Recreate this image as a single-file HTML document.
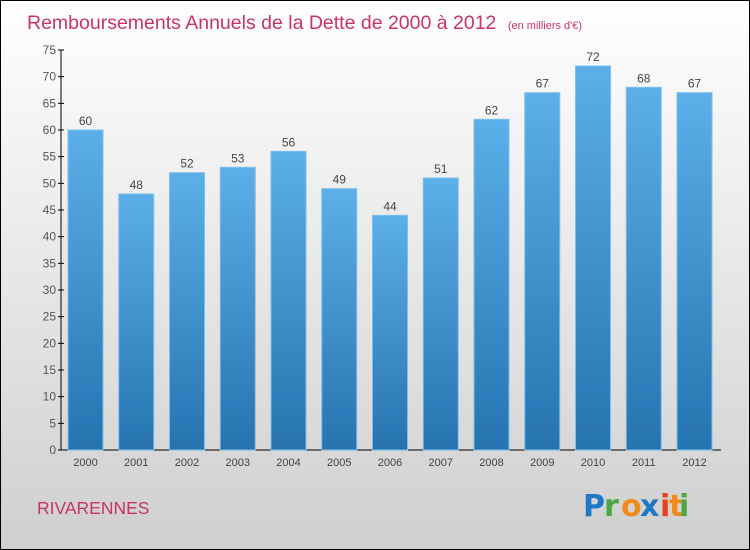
<!DOCTYPE html>
<html><head><meta charset="utf-8"><style>
body{margin:0;width:750px;height:550px;overflow:hidden}
svg{display:block;font-family:"Liberation Sans",sans-serif}
</style></head><body>
<svg id="c" width="750" height="550">
<defs>
<linearGradient id="bg" x1="0" y1="0" x2="0" y2="1"><stop offset="0" stop-color="#ffffff"/><stop offset="1" stop-color="#cfcfcf"/></linearGradient>
<linearGradient id="bar" x1="0" y1="0" x2="0" y2="1"><stop offset="0" stop-color="#5cafe8"/><stop offset="1" stop-color="#2673b0"/></linearGradient>
</defs>
<rect x="0.5" y="0.5" width="749" height="549" fill="url(#bg)" stroke="#000"/>
<text x="27" y="29" font-size="19.5" fill="#c8336a">Remboursements Annuels de la Dette de 2000 à 2012 <tspan font-size="11" dx="6">(en milliers d'€)</tspan></text>
<text x="37" y="514" font-size="17.5" fill="#c8336a">RIVARENNES</text>
<g font-size="30" font-weight="bold" font-family="'DejaVu Sans',sans-serif">
<text x="583" y="516" fill="#1e78c8">P</text><text x="604" y="516" fill="#4aa844">r</text><text x="621" y="516" fill="#f28a1a">o</text><text x="640" y="516" fill="#1e78c8">x</text><text x="660" y="516" fill="#e8401a">i</text><text x="669" y="516" fill="#f28a1a">t</text><text x="679" y="516" fill="#4aa844">i</text>
</g>
<g id="plot"></g>
</svg>
<script>
const categories=["2000","2001","2002","2003","2004","2005","2006","2007","2008","2009","2010","2011","2012"];
const values=[60,48,52,53,56,49,44,51,62,67,72,68,67];
const yTicks=[0,5,10,15,20,25,30,35,40,45,50,55,60,65,70,75];
const NS="http://www.w3.org/2000/svg";
const g=document.getElementById("plot");
const y0=450,yTop=50,yMax=75;
const y=v=>y0-(v/yMax)*(y0-yTop);
const x=i=>85.5+i*50.75;
function mk(t,a){const e=document.createElementNS(NS,t);for(const k in a)e.setAttribute(k,a[k]);g.appendChild(e);return e;}
const ya=mk("line",{x1:61,y1:yTop,x2:61,y2:y0,stroke:"#000"});


const xa=mk("line",{x1:61,y1:y0,x2:721,y2:y0,stroke:"#000"});


yTicks.forEach(v=>{
 const tk=mk("line",{x1:58,y1:y(v),x2:64,y2:y(v),stroke:"#000"});
 
 
 const t=mk("text",{x:56,y:y(v)+4,"text-anchor":"end","font-size":12,fill:"#555"});
 t.textContent=v;
 
 
});
values.forEach((v,i)=>{
 const r=mk("rect",{x:x(i)-17.5,y:y(v),width:35,height:y0-y(v),fill:"url(#bar)",stroke:"#7cc0ee","stroke-width":1});
 
 
 const l=mk("text",{x:x(i),y:y(v)-5,"text-anchor":"middle","font-size":12,fill:"#444"});
 l.textContent=v;
 
 
 const c=mk("text",{x:x(i),y:466,"text-anchor":"middle","font-size":11,fill:"#444"});
 c.textContent=categories[i];
 
 
});
</script>
</body></html>
